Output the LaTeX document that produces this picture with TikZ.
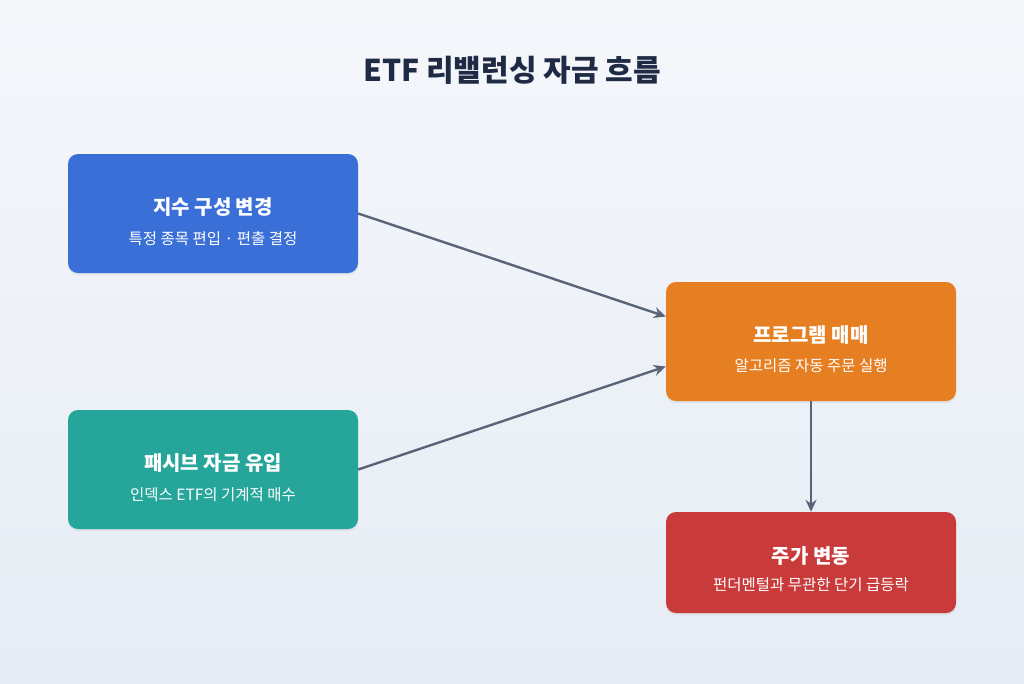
\documentclass[tikz,border=0pt]{standalone}
\usepackage{fontspec}
\setmainfont{Noto Sans CJK KR}
\usetikzlibrary{arrows.meta,shadows}
\definecolor{bgA}{HTML}{F5F7FB}
\definecolor{bgB}{HTML}{E6ECF4}
\definecolor{cblue}{HTML}{3A6FD8}
\definecolor{cteal}{HTML}{26A69A}
\definecolor{corange}{HTML}{E67E22}
\definecolor{cred}{HTML}{C93A3A}
\definecolor{ctitle}{HTML}{1F2A44}
\definecolor{carrow}{HTML}{5A6478}
\begin{document}
\begin{tikzpicture}[x=1pt,y=-1pt,
  box/.style={rounded corners=10pt,minimum width=290pt,text=white,align=center,inner sep=0pt,
    drop shadow={shadow xshift=0pt,shadow yshift=-2pt,opacity=0.12}},
  arr/.style={draw=carrow,line width=2.4pt,-{Stealth[length=12pt,width=11pt]}},
  tt/.style={font=\bfseries\fontsize{20}{24}\selectfont},
  st/.style={font=\fontsize{15.5}{19}\selectfont}]
\useasboundingbox (0,0) rectangle (1024,683);
\shade[top color=bgA,bottom color=bgB] (0,0) rectangle (1024,683);
\node (title) at (512,70) {\bfseries\fontsize{30}{36}\selectfont\color{ctitle}ETF 리밸런싱 자금 흐름};
\node[box,fill=cblue,minimum height=119pt] (a) at (213,213.5) {};
\node[tt,text=white] (at) at (213,207) {지수 구성 변경};
\node[st,text=white] (as) at (213,239) {특정 종목 편입 · 편출 결정};
\node[box,fill=cteal,minimum height=119pt] (b) at (213,469.5) {};
\node[tt,text=white] (bt) at (213,463) {패시브 자금 유입};
\node[st,text=white] (bs) at (213,495) {인덱스 ETF의 기계적 매수};
\node[box,fill=corange,minimum height=119pt] (c) at (811,341.5) {};
\node[tt,text=white] (ct) at (811,335) {프로그램 매매};
\node[st,text=white] (cs) at (811,366) {알고리즘 자동 주문 실행};
\node[box,fill=cred,minimum height=101pt] (d) at (811,562.5) {};
\node[tt,text=white] (dt) at (811,556) {주가 변동};
\node[st,text=white] (ds) at (811,585) {펀더멘털과 무관한 단기 급등락};
\draw[arr] (a.east) -- ([yshift=25pt]c.west);
\draw[arr] (b.east) -- ([yshift=-25pt]c.west);
\draw[arr] (c.south) -- (d.north);
\end{tikzpicture}
\end{document}
